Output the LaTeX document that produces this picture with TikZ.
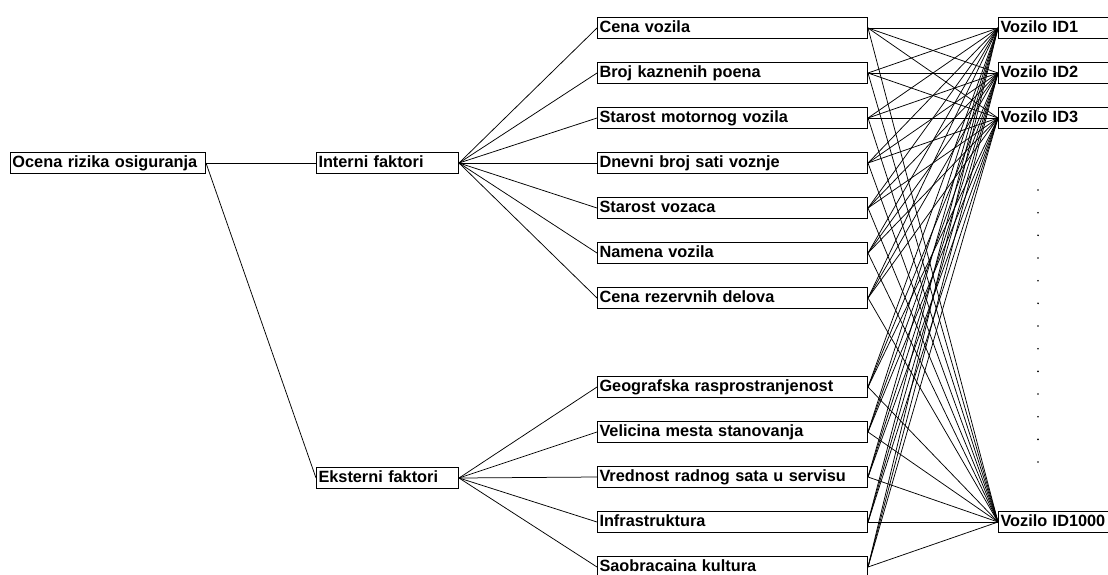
\documentclass[tikz,border=0pt]{standalone}
\usepackage{fontspec}
\setmainfont{Liberation Sans}
\begin{document}
\begin{tikzpicture}[x=1pt,y=-1pt,
  box/.style={draw, line width=1pt, minimum height=21pt, inner xsep=2pt, inner ysep=0pt,
    anchor=west, align=left, text height=12pt, text depth=3.5pt,
    font=\bfseries\fontsize{16.3}{18}\selectfont},
  rootbox/.style={box, text width=191pt},
  groupbox/.style={box, text width=138pt},
  factorbox/.style={box, text width=266pt},
  carbox/.style={box, text width=120pt},
  link/.style={line width=0.75pt}]
\useasboundingbox (0,0) rectangle (1108,574);

% root and the two groups of factors
\node[rootbox]  (root) at (10,163) {Ocena rizika osiguranja};
\node[groupbox] (int)  at (316,163) {Interni faktori};
\node[groupbox] (ext)  at (316,478) {Eksterni faktori};

% internal factors
\node[factorbox] (m1) at (597,28)  {Cena vozila};
\node[factorbox] (m2) at (597,73)  {Broj kaznenih poena};
\node[factorbox] (m3) at (597,118) {Starost motornog vozila};
\node[factorbox] (m4) at (597,163) {Dnevni broj sati voznje};
\node[factorbox] (m5) at (597,208) {Starost vozaca};
\node[factorbox] (m6) at (597,253) {Namena vozila};
\node[factorbox] (m7) at (597,298) {Cena rezervnih delova};
% external factors
\node[factorbox] (m8)  at (597,387) {Geografska rasprostranjenost};
\node[factorbox] (m9)  at (597,432) {Velicina mesta stanovanja};
\node[factorbox] (m10) at (597,477) {Vrednost radnog sata u servisu};
\node[factorbox] (m11) at (597,522) {Infrastruktura};
\node[factorbox] (m12) at (597,567) {Saobracaina kultura};

% vehicles
\node[carbox] (v1) at (998,28)  {Vozilo ID1};
\node[carbox] (v2) at (998,73)  {Vozilo ID2};
\node[carbox] (v3) at (998,118) {Vozilo ID3};
\node[carbox] (v4) at (998,522) {Vozilo ID1000};

% ellipsis between ID3 and ID1000
\foreach \k in {0,...,12}
  \fill (1038,190+22.67*\k) circle (0.9pt);

% connectors
\draw[link] (root.east) -- (int.west);
\draw[link] (root.east) -- (ext.west);
\foreach \m in {1,...,7}
  \draw[link] (int.east) -- (m\m.west);
\foreach \m in {8,...,12}
  \draw[link] (ext.east) -- (m\m.west);
\foreach \m in {1,...,12}
  \foreach \v in {1,...,4}
    \draw[link] (m\m.east) -- (v\v.west);
\end{tikzpicture}
\end{document}
